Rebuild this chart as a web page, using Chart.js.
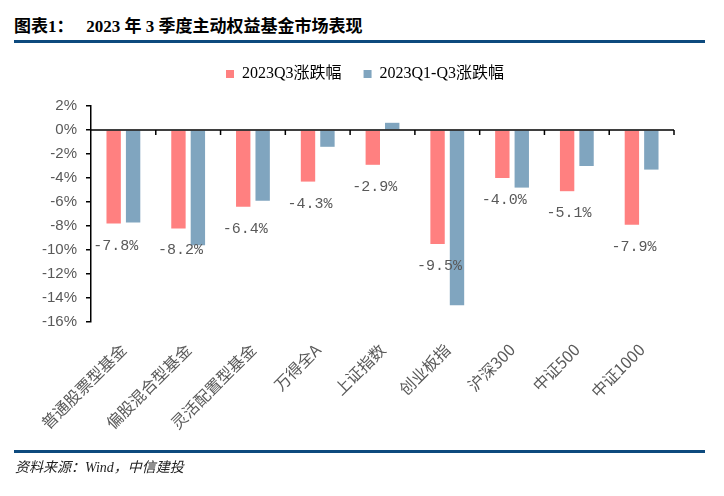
<!DOCTYPE html>
<html>
<head>
<meta charset="utf-8">
<script src="https://cdn.jsdelivr.net/npm/chart.js@4"></script>
<style>
  body { margin: 0; background: #fff; }
  #wrap { position: relative; width: 724px; height: 496px; }
  #chart { position: absolute; left: 0; top: 0; }
  .title {
    position: absolute; left: 14px; top: 12px;
    font: bold 17px "Liberation Serif", "Noto Sans CJK SC", serif; color: #000;
  }
  .rule { position: absolute; left: 14px; width: 691px; height: 3px; background: #0d4a7e; }
  .note {
    position: absolute; left: 15px; top: 456px;
    font: italic 14px "Liberation Serif", "Noto Sans CJK SC", serif; color: #222;
  }
</style>
</head>
<body>
<div id="wrap">
  <div class="title">图表1：&nbsp;&nbsp; 2023 年 3 季度主动权益基金市场表现</div>
  <div class="rule" style="top:40px"></div>
  <canvas id="chart" width="724" height="496"></canvas>
  <div class="rule" style="top:450px"></div>
  <div class="note">资料来源：Wind，中信建投</div>
</div>
<script>
// ======================================================
// Data
// ======================================================
const categories = ['普通股票型基金', '偏股混合型基金', '灵活配置型基金', '万得全A', '上证指数', '创业板指', '沪深300', '中证500', '中证1000'];
const seriesNames = ['2023Q3涨跌幅', '2023Q1-Q3涨跌幅'];
const q3Change = [-7.8, -8.2, -6.4, -4.3, -2.9, -9.5, -4.0, -5.1, -7.9];
const ytdChange = [-7.7, -9.6, -5.9, -1.4, 0.6, -14.6, -4.8, -3.0, -3.3];
const yTicks = [2, 0, -2, -4, -6, -8, -10, -12, -14, -16];

const GRAY = '#595959';

// extra room under the legend, and nudge it right to sit over the page centre
const legendTweak = {
  id: 'legendTweak',
  beforeInit(chart) {
    const fit = chart.legend.fit;
    chart.legend.fit = function() {
      fit.bind(chart.legend)();
      this.height += 14;
    };
  },
  afterLayout(chart) {
    chart.legend.left += 28;
    chart.legend.right += 28;
  }
};

// zero line plus category boundary ticks
const zeroAxis = {
  id: 'zeroAxis',
  afterDatasetsDraw(chart) {
    const { ctx, chartArea, scales } = chart;
    const y0 = scales.y.getPixelForValue(0);
    ctx.save();
    ctx.strokeStyle = '#000';
    ctx.lineWidth = 1.5;
    ctx.beginPath();
    ctx.moveTo(chartArea.left, y0);
    ctx.lineTo(chartArea.right, y0);
    const xs = scales.x;
    for (let i = 1; i <= categories.length; i++) {
      const bx = i < categories.length
        ? (xs.getPixelForValue(i - 1) + xs.getPixelForValue(i)) / 2
        : chartArea.right;
      ctx.moveTo(bx, y0);
      ctx.lineTo(bx, y0 + 5);
    }
    ctx.stroke();
    ctx.restore();
  }
};

// value labels under the Q3 bars
const q3Labels = {
  id: 'q3Labels',
  afterDatasetsDraw(chart) {
    const { ctx } = chart;
    const meta = chart.getDatasetMeta(0);
    ctx.save();
    ctx.font = '15px "Liberation Mono", monospace';
    ctx.fillStyle = GRAY;
    ctx.textAlign = 'center';
    ctx.textBaseline = 'middle';
    meta.data.forEach((bar, i) => {
      ctx.fillText(q3Change[i].toFixed(1) + '%', bar.x + 2, bar.y + 22);
    });
    ctx.restore();
  }
};

new Chart(document.getElementById('chart'), {
  type: 'bar',
  data: {
    labels: categories,
    datasets: [
      { label: seriesNames[0], data: q3Change, backgroundColor: '#ff8080' },
      { label: seriesNames[1], data: ytdChange, backgroundColor: '#80a5bf' }
    ]
  },
  options: {
    responsive: false,
    animation: false,
    devicePixelRatio: 1,
    categoryPercentage: 0.6,
    barPercentage: 0.74,
    layout: { padding: { top: 44, right: 50, left: 0, bottom: 0 } },
    plugins: {
      legend: {
        position: 'top',
        labels: {
          boxWidth: 8, boxHeight: 8, padding: 22,
          color: '#000',
          font: { size: 16, family: '"Liberation Serif", "Noto Sans CJK SC", serif' }
        }
      },
      tooltip: { enabled: false }
    },
    scales: {
      x: {
        grid: { display: false, drawTicks: false },
        border: { display: false },
        ticks: {
          autoSkip: false, minRotation: 45, maxRotation: 45, padding: 18,
          color: GRAY, font: { size: 16, family: '"Noto Sans CJK SC", sans-serif' }
        },
        afterFit(scale) { scale.height = 174; }
      },
      y: {
        min: -16, max: 2,
        afterBuildTicks(scale) { scale.ticks = yTicks.map(v => ({ value: v })); },
        grid: { drawOnChartArea: false, tickLength: 5, color: '#000', lineWidth: 1.5 },
        border: { color: '#000', width: 1.5 },
        ticks: {
          padding: 9, color: GRAY,
          font: { size: 15, family: '"Liberation Sans", Arial, sans-serif' },
          callback: v => v + '%'
        },
        afterFit(scale) { scale.width = 91; }
      }
    }
  },
  plugins: [legendTweak, zeroAxis, q3Labels]
});
</script>
</body>
</html>
